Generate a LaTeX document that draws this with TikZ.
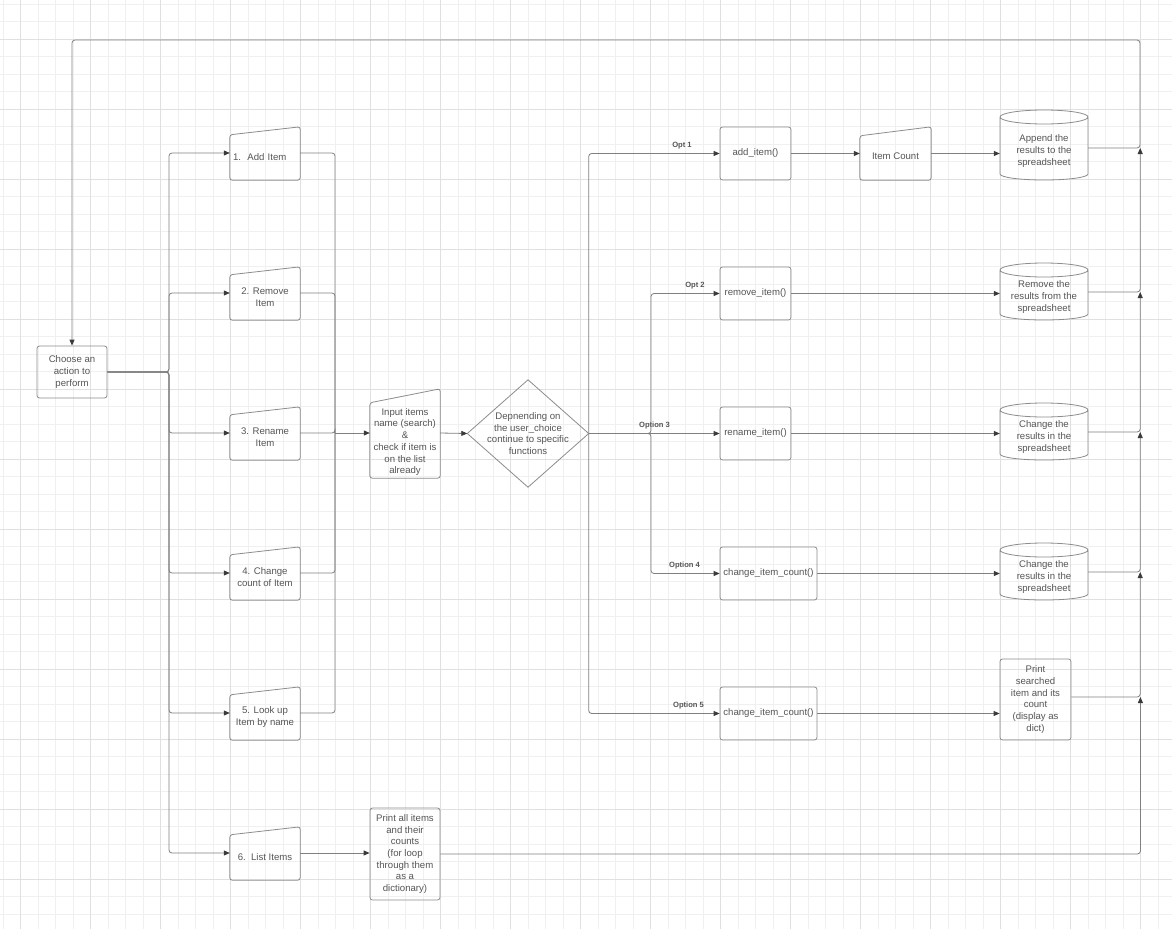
\documentclass[tikz,border=0pt]{standalone}
\usepackage{fontspec}
\setmainfont{Liberation Sans}
\usetikzlibrary{arrows.meta,calc}
\definecolor{gridminor}{HTML}{F0F0F0}
\definecolor{gridmajor}{HTML}{E0E0E0}
\definecolor{edgec}{HTML}{808080}
\definecolor{boxc}{HTML}{8C8C8C}
\definecolor{txt}{HTML}{555555}
\definecolor{tipc}{HTML}{3A3A3A}
\newcommand\mishape[3]{%
  \draw[shp,rounded corners=2.5pt] (#1.south west) -- ($(#1.north west)+(0,#2)$) -- ($(#1.north east)+(0,#3)$) -- (#1.south east) -- cycle;}
\newcommand\cylshape[3]{%
  \draw[shp] ($(#1.center)+(-44,-#2+7)$) -- ($(#1.center)+(-44,#3-6)$)
    arc[start angle=180,end angle=360,x radius=44pt,y radius=6pt]
    -- ($(#1.center)+(44,-#2+7)$)
    arc[start angle=0,end angle=180,x radius=44pt,y radius=7pt]
    arc[start angle=180,end angle=360,x radius=44pt,y radius=7pt];}
\begin{document}
\begin{tikzpicture}[x=1pt,y=-1pt,
  txtnode/.style={inner sep=0pt, align=center, text=txt, font=\fontsize{9.6}{11.7}\selectfont},
  fbox/.style={txtnode, draw=boxc, line width=0.8pt, rounded corners=2.5pt},
  shp/.style={draw=boxc, line width=0.8pt},
  conn/.style={draw=edgec, line width=0.8pt, rounded corners=3pt},
  arr/.style={-{Triangle[length=6pt,width=5pt,color=tipc]}},
  lbl/.style={inner sep=0pt, text=txt, font=\bfseries\fontsize{7.6}{9}\selectfont}]
\useasboundingbox (0,0) rectangle (1172,929);
\fill[white] (0,0) rectangle (1172,929);
% grid
\foreach \i in {-1,...,65} \draw[gridminor, line width=0.7pt] ({20.7+17.5*\i},0) -- ({20.7+17.5*\i},929);
\foreach \j in {-2,...,50} \draw[gridminor, line width=0.7pt] (0,{39.3+17.5*\j}) -- (1172,{39.3+17.5*\j});
\foreach \i in {0,...,16} \draw[gridmajor, line width=0.7pt] ({20.7+70*\i},0) -- ({20.7+70*\i},929);
\foreach \j in {0,...,12} \draw[gridmajor, line width=0.7pt] (0,{39.3+70*\j}) -- (1172,{39.3+70*\j});

% nodes
\node[fbox, minimum width=70, minimum height=52] (choose) at (72,372) {Choose an\\action to\\perform};

\node[txtnode, minimum width=70, minimum height=46, text width=64, align=left] (o1) at (265,157) {1.\ \ Add Item};
\node[txtnode, minimum width=70, minimum height=46] (o2) at (265,297) {2. Remove\\Item};
\node[txtnode, minimum width=70, minimum height=46] (o3) at (265,437) {3. Rename\\Item};
\node[txtnode, minimum width=70, minimum height=46] (o4) at (265,577) {4. Change\\count of Item};
\node[txtnode, minimum width=70, minimum height=46] (o5) at (265,717) {5. Look up\\Item by name};
\node[txtnode, minimum width=70, minimum height=46] (o6) at (265,857) {6.\ \ List Items};
\foreach \k in {1,...,6} {\mishape{o\k}{1}{-7}}

\node[txtnode, minimum width=70, minimum height=72] (input) at (405,442) {Input items\\name (search)\\\&\\check if item is\\on the list\\already};
\mishape{input}{-3}{-17}

\node[txtnode, minimum width=121, minimum height=107] (dia) at (528,433.5) {Depnending on\\the user\_choice\\continue to specific\\functions};
\draw[shp] (dia.west) -- (dia.north) -- (dia.east) -- (dia.south) -- cycle;

\node[fbox, minimum width=71, minimum height=53] (f1) at (755.5,153.5) {add\_item()};
\node[fbox, minimum width=71, minimum height=53] (f2) at (755.5,293.5) {remove\_item()};
\node[fbox, minimum width=71, minimum height=53] (f3) at (755.5,433.5) {rename\_item()};
\node[fbox, minimum width=97, minimum height=53] (f4) at (768.5,573.5) {change\_item\_count()};
\node[fbox, minimum width=97, minimum height=53] (f5) at (768.5,713.5) {change\_item\_count()};

\node[txtnode, minimum width=71, minimum height=48] (ic) at (895.5,156) {Item Count};
\mishape{ic}{4}{-5}

\node[txtnode, minimum width=88] (c1) at (1044,151) {Append the\\results to the\\spreadsheet};
\cylshape{c1}{41}{29}
\node[txtnode, minimum width=88] (c2) at (1044,297) {Remove the\\results from the\\spreadsheet};
\cylshape{c2}{34}{23}
\node[txtnode, minimum width=88] (c3) at (1044,437) {Change the\\results in the\\spreadsheet};
\cylshape{c3}{34}{23}
\node[txtnode, minimum width=88] (c4) at (1044,577) {Change the\\results in the\\spreadsheet};
\cylshape{c4}{34}{23}

\node[fbox, minimum width=71, minimum height=81] (ps) at (1035.5,699.5) {Print\\searched\\item and its\\count\\(display as\\dict)};
\node[fbox, minimum width=70, minimum height=92] (pa) at (405,854) {Print all items\\and their\\counts\\(for loop\\through them\\as a\\dictionary)};

% labels
\node[lbl] (l1) at (682,146) {Opt 1};
\node[lbl] (l2) at (695,286) {Opt 2};
\node[lbl] (l3) at (654.5,426) {Option 3};
\node[lbl] (l4) at (684.5,566) {Option 4};
\node[lbl] (l5) at (688.5,706) {Option 5};

% connectors
\coordinate (br) at (169,372);
\foreach \k in {1,...,6} {\draw[conn,arr] (choose.east) -- (br) |- ($(o\k.west)+(0,-4)$);}
\coordinate (mg) at (335,433);
\foreach \k in {1,...,5} {\draw[conn] ($(o\k.east)+(0,-4)$) -| (mg);}
\draw[conn,arr] (mg) -- ($(input.west)+(0,-9)$);
\draw[conn,arr] ($(input.east)+(0,-9)$) -- (dia.west);

\coordinate (dv) at (651,433.5);
\draw[conn,arr] (dia.east) |- (f1.west);
\draw[conn,arr] (dia.east) -- (dv) |- (f2.west);
\draw[conn,arr] (dia.east) -- (f3.west);
\draw[conn,arr] (dia.east) -- (dv) |- (f4.west);
\draw[conn,arr] (dia.east) |- (f5.west);

\draw[conn,arr] (f1.east) -- (f1.east -| ic.west);
\draw[conn,arr] (f1.east -| ic.east) -- (f1.east -| c1.west);
\draw[conn,arr] (f2.east) -- (f2.east -| c2.west);
\draw[conn,arr] (f3.east) -- (f3.east -| c3.west);
\draw[conn,arr] (f4.east) -- (f4.east -| c4.west);
\draw[conn,arr] (f5.east) -- (f5.east -| ps.west);
\draw[conn,arr] ($(o6.east)+(0,-4)$) -- ($(pa.west)+(0,-1)$);

\coordinate (rv) at (1140,40);
\coordinate (j1) at ($(c1.east)+(52,-3)$);
\coordinate (j2) at ($(c2.east)+(52,-5)$);
\coordinate (j3) at ($(c3.east)+(52,-5)$);
\coordinate (j4) at ($(c4.east)+(52,-5)$);
\coordinate (j5) at ($(ps.east)+(69,-2.5)$);
\draw[conn,arr] ($(c1.east)+(0,-3)$) -| (rv) -| (choose.north);
\draw[conn,arr] ($(c2.east)+(0,-5)$) -| (j1);
\draw[conn,arr] ($(c3.east)+(0,-5)$) -| (j2);
\draw[conn,arr] ($(c4.east)+(0,-5)$) -| (j3);
\draw[conn,arr] ($(ps.east)+(0,-2.5)$) -| (j4);
\draw[conn,arr] (pa.east) -| (j5);
\end{tikzpicture}
\end{document}
